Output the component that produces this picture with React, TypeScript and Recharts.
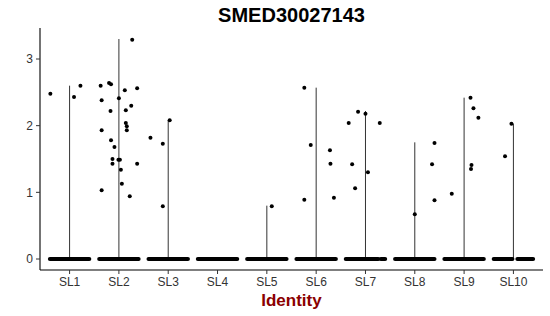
import React from "react";
import {
  ComposedChart,
  Scatter,
  XAxis,
  YAxis,
  ReferenceLine,
} from "recharts";

const categories = ["SL1", "SL2", "SL3", "SL4", "SL5", "SL6", "SL7", "SL8", "SL9", "SL10"];

// violin tops (max expression per identity)
const violinMax = [2.6, 3.3, 2.08, 0, 0.8, 2.57, 2.22, 1.75, 2.42, 2.03];

// non-zero cells: [jitter offset, expression]
const sl1Points = [[-0.39, 2.48], [0.09, 2.43], [0.22, 2.6]];
const sl2Points = [
  [0.27, 3.29], [-0.37, 2.6], [-0.2, 2.64], [-0.16, 2.62], [0.37, 2.56], [0.12, 2.53],
  [-0.35, 2.38], [0.0, 2.41], [0.25, 2.3], [-0.17, 2.22], [0.14, 2.23], [0.14, 2.04],
  [0.16, 1.99], [0.16, 1.93], [-0.35, 1.93], [-0.16, 1.78], [-0.09, 1.68], [-0.13, 1.5],
  [-0.13, 1.43], [-0.01, 1.49], [0.02, 1.49], [0.04, 1.34], [0.37, 1.43], [0.06, 1.13],
  [-0.35, 1.03], [0.22, 0.94],
];
const sl3Points = [[0.03, 2.08], [-0.36, 1.82], [-0.11, 1.73], [-0.11, 0.79]];
const sl4Points: number[][] = [];
const sl5Points = [[0.1, 0.79]];
const sl6Points = [[-0.24, 2.57], [-0.11, 1.71], [0.28, 1.63], [0.29, 1.43], [-0.24, 0.89], [0.36, 0.92]];
const sl7Points = [[-0.15, 2.21], [-0.34, 2.04], [-0.27, 1.42], [-0.21, 1.06], [0.0, 2.18], [0.29, 2.04], [0.05, 1.3]];
const sl8Points = [[0.4, 1.74], [0.35, 1.42], [0.4, 0.88], [0.0, 0.67]];
const sl9Points = [[-0.25, 0.98], [0.13, 2.42], [0.19, 2.26], [0.29, 2.12], [0.15, 1.41], [0.14, 1.35]];
const sl10Points = [[-0.04, 2.03], [-0.17, 1.54]];

const pointGroups = [sl1Points, sl2Points, sl3Points, sl4Points, sl5Points, sl6Points, sl7Points, sl8Points, sl9Points, sl10Points];

// extents of the dense band of zero-expression cells: [category index, from offset, to offset]
const zeroBands = [
  [0, -0.4, 0.4], [1, -0.4, 0.4], [2, -0.4, 0.4], [3, -0.4, 0.4], [4, -0.4, 0.4],
  [5, -0.4, 0.4], [6, -0.4, 0.26], [6, 0.31, 0.4], [7, -0.4, 0.4], [8, -0.4, 0.4],
  [9, -0.4, -0.02], [9, 0.08, 0.4],
];

const yTicks = [0, 1, 2, 3];

const scatterData = pointGroups.flatMap((g, i) =>
  g.map(([off, v]) => ({ x: i + 1 + off, y: v }))
);

const FONT = "'Liberation Sans', Arial, Helvetica, sans-serif";

const Dot = (props: any) => {
  const { cx, cy } = props;
  if (cx == null || cy == null) return null;
  return <circle cx={cx} cy={cy} r={2} fill="#000" />;
};

export default function App() {
  return (
    <div style={{ position: "absolute", left: 0, top: 0, width: 550, height: 316, background: "#fff", fontFamily: FONT }}>
      <div
        style={{
          position: "absolute",
          left: 40,
          width: 503,
          top: 4,
          textAlign: "center",
          fontWeight: "bold",
          fontSize: 20,
          color: "#000",
          fontFamily: FONT,
        }}
      >
        SMED30027143
      </div>
      <ComposedChart
        width={550}
        height={316}
        margin={{ top: 28, right: 7, left: 0, bottom: 0 }}
      >
        <XAxis
          dataKey="x"
          type="number"
          domain={[0.4, 10.6]}
          ticks={categories.map((_, i) => i + 1)}
          tickFormatter={(v: number) => categories[v - 1] ?? ""}
          allowDataOverflow
          height={46}
          stroke="#000"
          tickSize={4}
          tickMargin={3}
          tick={{ fill: "#333", fontSize: 12, fontFamily: FONT }}
          axisLine={{ stroke: "#000", strokeWidth: 1.1 }}
          tickLine={{ stroke: "#333" }}
          label={{
            value: "Identity",
            position: "insideBottom",
            offset: 10,
            style: { fill: "#8B0000", fontWeight: "bold", fontSize: 17, fontFamily: FONT },
          }}
        />
        <YAxis
          dataKey="y"
          type="number"
          domain={[-0.165, 3.465]}
          ticks={yTicks}
          allowDataOverflow
          width={40}
          stroke="#000"
          tickSize={4}
          tickMargin={3}
          tick={{ fill: "#333", fontSize: 12, fontFamily: FONT }}
          axisLine={{ stroke: "#000", strokeWidth: 1.1 }}
          tickLine={{ stroke: "#333" }}
        />
        {violinMax.map((m, i) =>
          m > 0 ? (
            <ReferenceLine
              key={"v" + i}
              segment={[{ x: i + 1, y: 0 }, { x: i + 1, y: m }]}
              stroke="#333"
              strokeWidth={1}
              ifOverflow="visible"
            />
          ) : null
        )}
        {zeroBands.map(([c, a, b], k) => (
          <ReferenceLine
            key={"z" + k}
            segment={[{ x: c + 1 + a, y: 0 }, { x: c + 1 + b, y: 0 }]}
            stroke="#000"
            strokeWidth={4}
            strokeLinecap="round"
            ifOverflow="visible"
          />
        ))}
        <Scatter data={scatterData} shape={<Dot />} isAnimationActive={false} />
      </ComposedChart>
    </div>
  );
}
